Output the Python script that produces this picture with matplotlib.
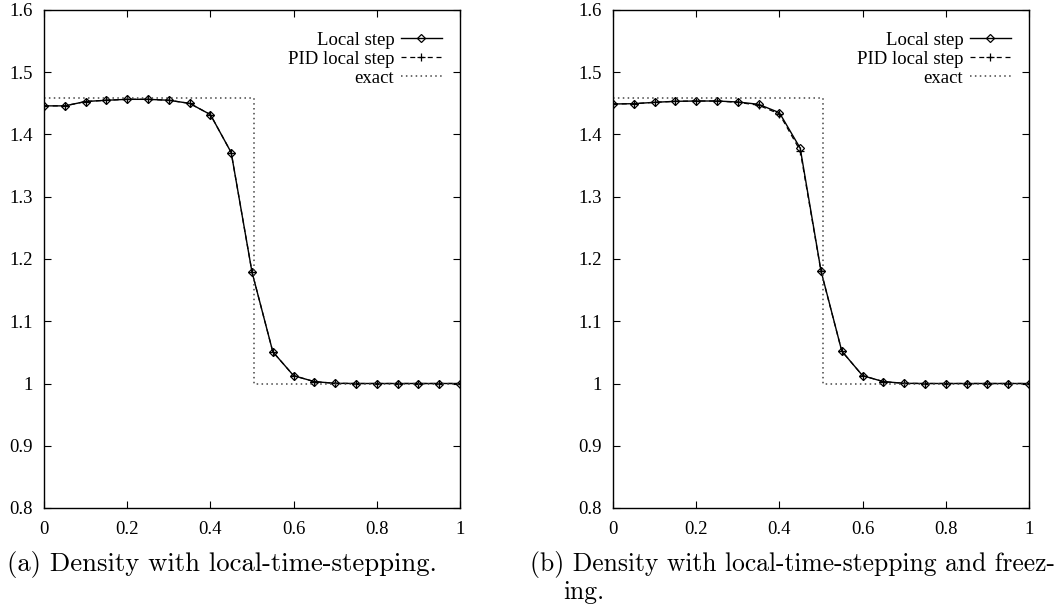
import matplotlib
matplotlib.use("Agg")
import matplotlib.pyplot as plt
from matplotlib.ticker import FuncFormatter, MultipleLocator

# ---- data ----
x = [0.0, 0.05, 0.1, 0.15, 0.2, 0.25, 0.3, 0.35, 0.4, 0.45, 0.5,
     0.55, 0.6, 0.65, 0.7, 0.75, 0.8, 0.85, 0.9, 0.95, 1.0]

local_a = [1.446, 1.446, 1.453, 1.455, 1.4565, 1.4565, 1.455, 1.450, 1.432, 1.371, 1.179,
           1.051, 1.0126, 1.003, 1.0003, 1.0, 1.0, 1.0, 1.0, 1.0, 1.0]
pid_a = [1.446, 1.446, 1.453, 1.455, 1.4565, 1.4565, 1.455, 1.450, 1.432, 1.371, 1.179,
         1.051, 1.0126, 1.003, 1.0003, 1.0, 1.0, 1.0, 1.0, 1.0, 1.0]

local_b = [1.449, 1.4495, 1.4517, 1.4533, 1.4538, 1.4538, 1.4522, 1.4485, 1.435, 1.378, 1.181,
           1.052, 1.0126, 1.003, 1.0003, 1.0, 1.0, 1.0, 1.0, 1.0, 1.0]
pid_b = [1.449, 1.4495, 1.4517, 1.4533, 1.4538, 1.4538, 1.4517, 1.447, 1.433, 1.374, 1.180,
         1.052, 1.0126, 1.003, 1.0003, 1.0, 1.0, 1.0, 1.0, 1.0, 1.0]

exact_x = [0.0, 0.505, 0.505, 1.0]
exact_y = [1.459, 1.459, 1.0, 1.0]

labels = ["Local step", "PID local step", "exact"]
captions = ["(a) Density with local-time-stepping.",
            "(b) Density with local-time-stepping and freez-",
            "ing."]

# ---- figure ----
W, H = 1063, 604
fig = plt.figure(figsize=(W / 100, H / 100), dpi=100)

tick_font = "Liberation Serif"
fs = 13.5

def make_ax(left_px, local, pid):
    ax = fig.add_axes([left_px / W, (H - 508) / H, 416 / W, 498 / H])
    ax.plot(x, local, color="black", lw=1.0, marker="D", ms=4.3, mfc="none",
            mec="black", mew=0.9, label=labels[0])
    ax.plot(x, pid, color="black", lw=0.9, ls=(0, (4, 3)), marker="+", ms=6,
            mew=0.9, label=labels[1])
    ax.plot(exact_x, exact_y, color="#444444", lw=1.1, ls=(0, (1, 2.2)), label=labels[2])
    ax.set_xlim(0, 1)
    ax.set_ylim(0.8, 1.6)
    ax.xaxis.set_major_locator(MultipleLocator(0.2))
    ax.yaxis.set_major_locator(MultipleLocator(0.1))
    fmt = FuncFormatter(lambda v, p: "%g" % round(v, 6))
    ax.xaxis.set_major_formatter(fmt)
    ax.yaxis.set_major_formatter(fmt)
    ax.tick_params(direction="in", length=5, width=0.8, top=True, right=True,
                   labelsize=fs)
    ax.tick_params(axis="x", pad=9)
    ax.tick_params(axis="y", pad=8)
    for lab in ax.get_xticklabels() + ax.get_yticklabels():
        lab.set_family(tick_font)
    for s in ax.spines.values():
        s.set_linewidth(1.0)
    ax.legend(loc="upper right", bbox_to_anchor=(0.957, 0.957), frameon=False,
              markerfirst=False, prop={"family": tick_font, "size": fs},
              handlelength=2.2, handletextpad=0.35, labelspacing=0.1,
              borderpad=0, borderaxespad=0)
    return ax

make_ax(44, local_a, pid_a)
make_ax(613, local_b, pid_b)

cap_font = "cmr10"
fig.text(7 / W, 1 - 564 / H, captions[0], family=cap_font, size=19.2, va="center", ha="left")
fig.text(530 / W, 1 - 564 / H, captions[1], family=cap_font, size=18.4, va="center", ha="left")
fig.text(563 / W, 1 - 592 / H, captions[2], family=cap_font, size=18.4, va="center", ha="left")

fig.savefig("out.png", dpi=100)
